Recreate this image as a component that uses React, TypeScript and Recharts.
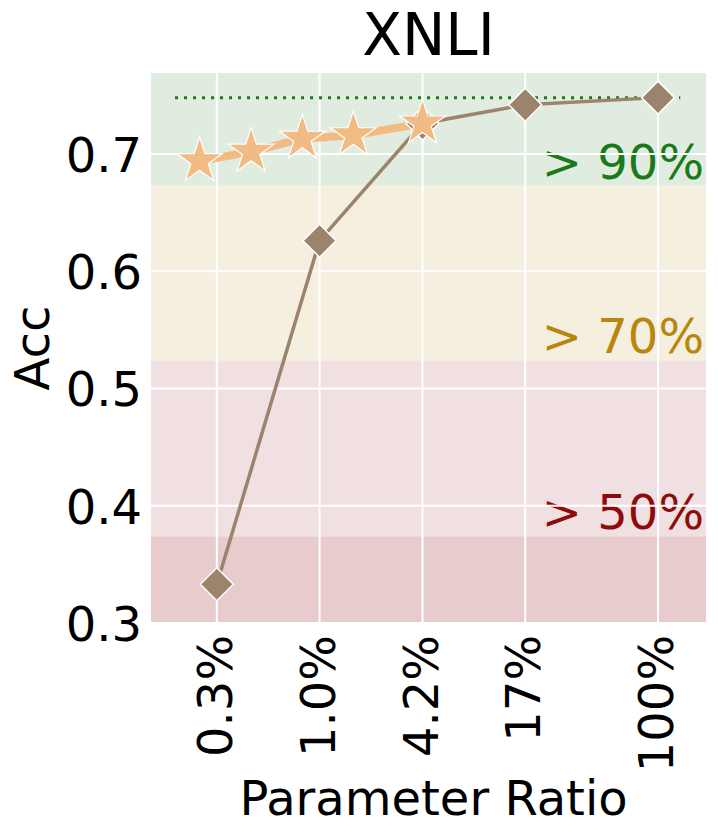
import React from 'react';
import { LineChart, Line, XAxis, YAxis, ReferenceArea, ReferenceLine, Label } from 'recharts';

// parameter ratio (%) of each point, log axis
const xTicks = [0.26, 1.04, 4.17, 16.67, 100];
const xTickLabels = ['0.3%', '1.0%', '4.2%', '17%', '100%'];
const yTicks = [0.3, 0.4, 0.5, 0.6, 0.7];

const fullRatio = [0.26, 1.04, 4.17, 16.67, 100];
const fullAcc = [0.333, 0.626, 0.726, 0.742, 0.748];

const starRatio = [0.206, 0.413, 0.825, 1.64, 4.17];
const starAcc = [0.694, 0.702, 0.713, 0.716, 0.726];

const refAcc = 0.748;
const refSpan = [0.148, 135];

const bandEdges = [0.3, 0.374, 0.524, 0.673, 0.769];
const bandLabels = ['', '> 50%', '> 70%', '> 90%'];
const bandFills = ['#e8cbcc', '#f1e0e1', '#f5efe0', '#e1ece1'];
const bandTextColors = ['', '#8e0b0b', '#b8860b', '#1a7a1a'];

const FONT = 'DejaVu Sans';
const FS = 48;

const fullData = fullRatio.map((x, i) => ({ x, acc: fullAcc[i] }));
const starData = starRatio.map((x, i) => ({ x, acc: starAcc[i] }));

function starPath(cx: number, cy: number, r: number) {
  const pts: string[] = [];
  for (let i = 0; i < 10; i++) {
    const a = -Math.PI / 2 + (i * Math.PI) / 5;
    const rr = i % 2 === 0 ? r : r * 0.382;
    pts.push(`${cx + rr * Math.cos(a)},${cy + rr * Math.sin(a)}`);
  }
  return `M${pts.join('L')}Z`;
}

const StarDot = (props: any) => {
  const { cx, cy, index } = props;
  if (cx == null || cy == null) return <g key={`s${index}`} />;
  return <path key={`s${index}`} d={starPath(cx, cy, 24)} fill="#f2bb83" stroke="#ffffff" strokeWidth={1.2} />;
};

const DiamondDot = (props: any) => {
  const { cx, cy, index } = props;
  if (cx == null || cy == null) return <g key={`d${index}`} />;
  const h = 16.5;
  return (
    <path
      key={`d${index}`}
      d={`M${cx},${cy - h}L${cx + h},${cy}L${cx},${cy + h}L${cx - h},${cy}Z`}
      fill="#9c836c"
      stroke="#ffffff"
      strokeWidth={1.5}
    />
  );
};

const XTick = (props: any) => {
  const { x, y, payload } = props;
  const idx = xTicks.indexOf(payload.value);
  const ty = y + 4;
  return (
    <text
      x={x}
      y={ty}
      transform={`rotate(-90, ${x}, ${ty})`}
      textAnchor="end"
      dy={15}
      fontSize={FS}
      fontFamily={FONT}
      fill="#000"
    >
      {idx >= 0 ? xTickLabels[idx] : ''}
    </text>
  );
};

const YTick = (props: any) => {
  const { y, payload } = props;
  return (
    <text x={142} y={y} dy={18} textAnchor="end" fontSize={FS} fontFamily={FONT} fill="#000">
      {payload.value.toFixed(1)}
    </text>
  );
};

export default function App() {
  return (
    <div style={{ position: 'absolute', left: 0, top: 0, width: 718, height: 838, background: '#fff' }}>
      <svg width={718} height={70} style={{ position: 'absolute', left: 0, top: 0 }}>
        <text x={428.5} y={55} textAnchor="middle" fontSize={58} fontFamily={FONT} fill="#000">
          XNLI
        </text>
      </svg>
      <div style={{ position: 'absolute', left: 0, top: 0 }}>
        <LineChart width={718} height={838} margin={{ top: 73, right: 12, bottom: 0, left: 0 }}>
          <XAxis
            type="number"
            dataKey="x"
            scale="log"
            domain={[0.107, 191]}
            allowDataOverflow
            ticks={xTicks}
            axisLine={false}
            tickLine={false}
            height={215}
            tick={<XTick />}
            interval={0}
          >
            <Label
              content={(p: any) => {
                const vb = p.viewBox;
                return (
                  <text x={vb.x + vb.width / 2 + 5} y={815} textAnchor="middle" fontSize={FS} fontFamily={FONT} fill="#000">
                    Parameter Ratio
                  </text>
                );
              }}
            />
          </XAxis>
          <YAxis
            type="number"
            domain={[bandEdges[0], bandEdges[bandEdges.length - 1]]}
            allowDataOverflow
            ticks={yTicks}
            axisLine={false}
            tickLine={false}
            width={151}
            tick={<YTick />}
            interval={0}
          >
            <Label
              content={(p: any) => {
                const vb = p.viewBox;
                const cy = vb.y + vb.height / 2;
                return (
                  <text x={49} y={cy} transform={`rotate(-90, 49, ${cy})`} textAnchor="middle" fontSize={FS} fontFamily={FONT} fill="#000">
                    Acc
                  </text>
                );
              }}
            />
          </YAxis>

          {bandFills.map((fill, i) => (
            <ReferenceArea
              key={`band${i}`}
              y1={bandEdges[i]}
              y2={bandEdges[i + 1]}
              fill={fill}
              fillOpacity={1}
              stroke="none"
              ifOverflow="hidden"
            >
              {bandLabels[i] ? (
                <Label
                  content={(p: any) => {
                    const vb = p.viewBox;
                    return (
                      <text
                        x={vb.x + vb.width - 2}
                        y={vb.y + vb.height - 7}
                        textAnchor="end"
                        fontSize={FS}
                        fontFamily={FONT}
                        fill={bandTextColors[i]}
                      >
                        {bandLabels[i]}
                      </text>
                    );
                  }}
                />
              ) : null}
            </ReferenceArea>
          ))}

          {xTicks.map((v) => (
            <ReferenceLine key={`gx${v}`} x={v} stroke="#ffffff" strokeWidth={2} />
          ))}
          {yTicks.map((v) => (
            <ReferenceLine key={`gy${v}`} y={v} stroke="#ffffff" strokeWidth={2} />
          ))}

          <ReferenceLine
            segment={[
              { x: refSpan[0], y: refAcc },
              { x: refSpan[1], y: refAcc },
            ]}
            stroke="#1a7a1a"
            strokeWidth={3}
            strokeDasharray="3 6"
          />

          <Line
            data={fullData}
            dataKey="acc"
            stroke="#9c836c"
            strokeWidth={3.5}
            dot={DiamondDot}
            activeDot={false}
            isAnimationActive={false}
          />
          <Line
            data={starData}
            dataKey="acc"
            stroke="#f2bb83"
            strokeWidth={8}
            dot={StarDot}
            activeDot={false}
            isAnimationActive={false}
          />
        </LineChart>
      </div>
    </div>
  );
}
